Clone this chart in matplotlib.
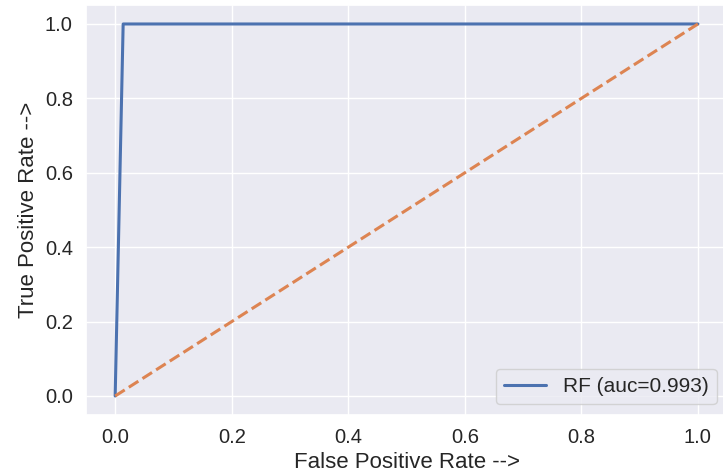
import matplotlib
matplotlib.use("Agg")
import matplotlib.pyplot as plt
import seaborn as sns

fpr = [0.0, 0.0137, 1.0]
tpr = [0.0, 1.0, 1.0]
diag = [0.0, 1.0]
auc = 0.993

sns.set_theme()
plt.rcParams['font.family'] = ['Liberation Sans', 'DejaVu Sans']

fig = plt.figure(figsize=(7.23, 4.76), dpi=100)
ax = fig.add_axes([0.119, 0.129, 0.8866, 0.8597])
ax.plot(fpr, tpr, linewidth=2.2, label='RF (auc=' + str(auc) + ')')
ax.plot(diag, diag, '--', linewidth=2.2)
ax.set_xlabel('False Positive Rate -->', fontsize=16)
ax.set_ylabel('True Positive Rate -->', fontsize=16)
ax.tick_params(axis='both', labelsize=14.5)
ax.legend(loc='lower right', fontsize=15)
fig.savefig('out.png', dpi=100)
